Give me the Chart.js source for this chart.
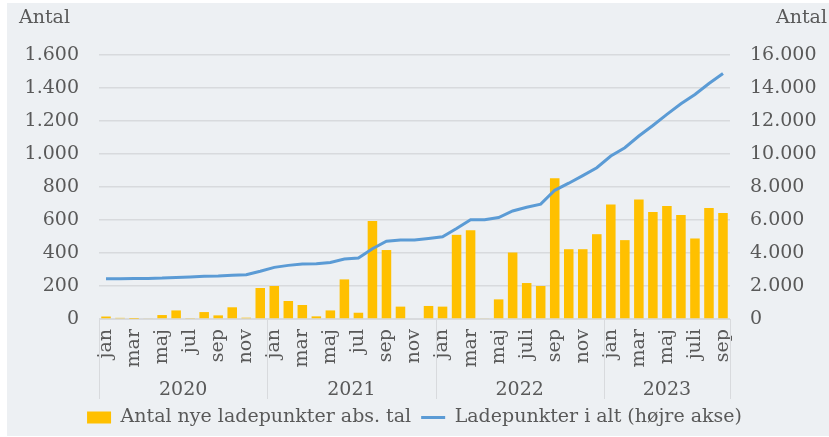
<!DOCTYPE html>
<html>
<head>
<meta charset="utf-8">
<script src="https://cdn.jsdelivr.net/npm/chart.js@4/dist/chart.umd.min.js"></script>
<style>
  html, body { margin: 0; padding: 0; background: #ffffff; }
  #wrap { position: relative; width: 829px; height: 437px; }
</style>
</head>
<body>
<div id="wrap"><canvas id="chart" width="829" height="437"></canvas></div>
<script>
// ── Data ──
const months = [
  'jan','feb','mar','apr','maj','jun','jul','aug','sep','okt','nov','dec',
  'jan','feb','mar','apr','maj','jun','jul','aug','sep','okt','nov','dec',
  'jan','feb','mar','apr','maj','jun','juli','aug','sep','okt','nov','dec',
  'jan','feb','mar','apr','maj','jun','juli','aug','sep'
];
const years = ['2020', '2021', '2022', '2023'];
const monthsPerYear = [12, 12, 12, 9];

const newPoints = [
  15, 7, 1, 5, 24, 52, 6, 42, 22, 71, 8, 188,
  200, 109, 85, 16, 52, 240, 38, 594, 418, 75, 0, 79,
  75, 510, 538, 4, 119, 403, 218, 200, 853, 423, 423, 514,
  694, 478, 724, 649, 685, 631, 488, 673, 643
];
const totalPoints = [
  2440, 2445, 2450, 2460, 2480, 2520, 2545, 2585, 2605, 2645, 2685, 2890,
  3130, 3250, 3330, 3350, 3430, 3640, 3700, 4260, 4710, 4790, 4790, 4880,
  4980, 5480, 6010, 6010, 6150, 6550, 6770, 6960, 7800, 8230, 8690, 9170,
  9880, 10380, 11090, 11730, 12400, 13040, 13610, 14270, 14880
];

const leftTicks = { min: 0, max: 1600, step: 200 };
const rightTicks = { min: 0, max: 16000, step: 2000 };

const TEXT = '#595959';
const GRID = '#d8dadd';

Chart.defaults.font.family = "'DejaVu Serif', serif";
Chart.defaults.font.size = 19;
Chart.defaults.color = TEXT;

const fmt = v => String(v).replace(/\B(?=(\d{3})+(?!\d))/g, '.');

// ── Background, axis titles, year groups ──
const decorations = {
  id: 'decorations',
  beforeDraw(chart) {
    const ctx = chart.ctx;
    ctx.save();
    ctx.fillStyle = '#edf0f3';
    ctx.fillRect(7, 3, chart.width - 7, chart.height - 4);
    ctx.restore();
  },
  afterDraw(chart) {
    const ctx = chart.ctx;
    const x = chart.scales.x;
    const area = chart.chartArea;
    ctx.save();
    ctx.fillStyle = TEXT;
    ctx.font = "19px 'DejaVu Serif'";
    ctx.textBaseline = 'alphabetic';
    ctx.textAlign = 'left';
    ctx.fillText('Antal', 19, 23);
    ctx.fillText('Antal', 776, 23);

    // year separators + labels
    ctx.strokeStyle = GRID;
    ctx.lineWidth = 1;
    let start = 0;
    const edges = [area.left];
    monthsPerYear.forEach(n => {
      start += n;
      const e = start < months.length
        ? (x.getPixelForValue(start - 1) + x.getPixelForValue(start)) / 2
        : area.right;
      edges.push(e);
    });
    edges.forEach(e => {
      ctx.beginPath();
      ctx.moveTo(Math.round(e) + 0.5, area.bottom);
      ctx.lineTo(Math.round(e) + 0.5, area.bottom + 80);
      ctx.stroke();
    });
    ctx.textAlign = 'center';
    ctx.textBaseline = 'middle';
    years.forEach((yr, i) => {
      ctx.fillText(yr, (edges[i] + edges[i + 1]) / 2, area.bottom + 71);
    });
    ctx.restore();
  }
};

new Chart(document.getElementById('chart'), {
  type: 'bar',
  data: {
    labels: months,
    datasets: [
      {
        type: 'bar',
        label: 'Antal nye ladepunkter abs. tal',
        data: newPoints,
        backgroundColor: '#ffc000',
        borderWidth: 0,
        barPercentage: 0.68,
        categoryPercentage: 1,
        yAxisID: 'y',
        order: 1
      },
      {
        type: 'line',
        label: 'Ladepunkter i alt (højre akse)',
        data: totalPoints,
        borderColor: '#5b9bd5',
        backgroundColor: '#5b9bd5',
        borderWidth: 3,
        pointRadius: 0,
        tension: 0,
        yAxisID: 'y2',
        order: 0
      }
    ]
  },
  options: {
    responsive: false,
    animation: false,
    layout: { padding: { top: 55, left: 0, right: 0, bottom: 0 } },
    plugins: {
      tooltip: { enabled: false },
      legend: {
        position: 'bottom',
        labels: {
          usePointStyle: true,
          pointStyleWidth: 24,
          boxHeight: 12,
          padding: 10,
          color: TEXT,
          font: { size: 19 },
          generateLabels: chart => chart.data.datasets.map((ds, i) => ({
            text: ds.label,
            fillStyle: ds.backgroundColor,
            strokeStyle: i === 0 ? ds.backgroundColor : ds.borderColor,
            lineWidth: i === 0 ? 0 : 3,
            pointStyle: i === 0 ? 'rect' : 'line',
            fontColor: TEXT,
            hidden: false,
            datasetIndex: i
          }))
        }
      }
    },
    scales: {
      x: {
        grid: { display: false, drawTicks: false },
        border: { display: true, color: GRID, width: 1 },
        ticks: {
          autoSkip: false,
          minRotation: 90,
          maxRotation: 90,
          padding: 10,
          font: { size: 19 },
          callback: (v, i) => (i % 2 === 0 ? months[i] : '')
        },
        afterFit: scale => { scale.height = 79; }
      },
      y: {
        position: 'left',
        min: leftTicks.min,
        max: leftTicks.max,
        grid: { color: GRID, lineWidth: 1.5, drawTicks: false },
        border: { display: false },
        ticks: { stepSize: leftTicks.step, padding: 20, callback: v => fmt(v) },
        afterFit: scale => { scale.width = 99; }
      },
      y2: {
        position: 'right',
        min: rightTicks.min,
        max: rightTicks.max,
        grid: { display: false, drawTicks: false },
        border: { display: false },
        ticks: { stepSize: rightTicks.step, padding: 20, callback: v => fmt(v) },
        afterFit: scale => { scale.width = 99; }
      }
    }
  },
  plugins: [decorations]
});
</script>
</body>
</html>
